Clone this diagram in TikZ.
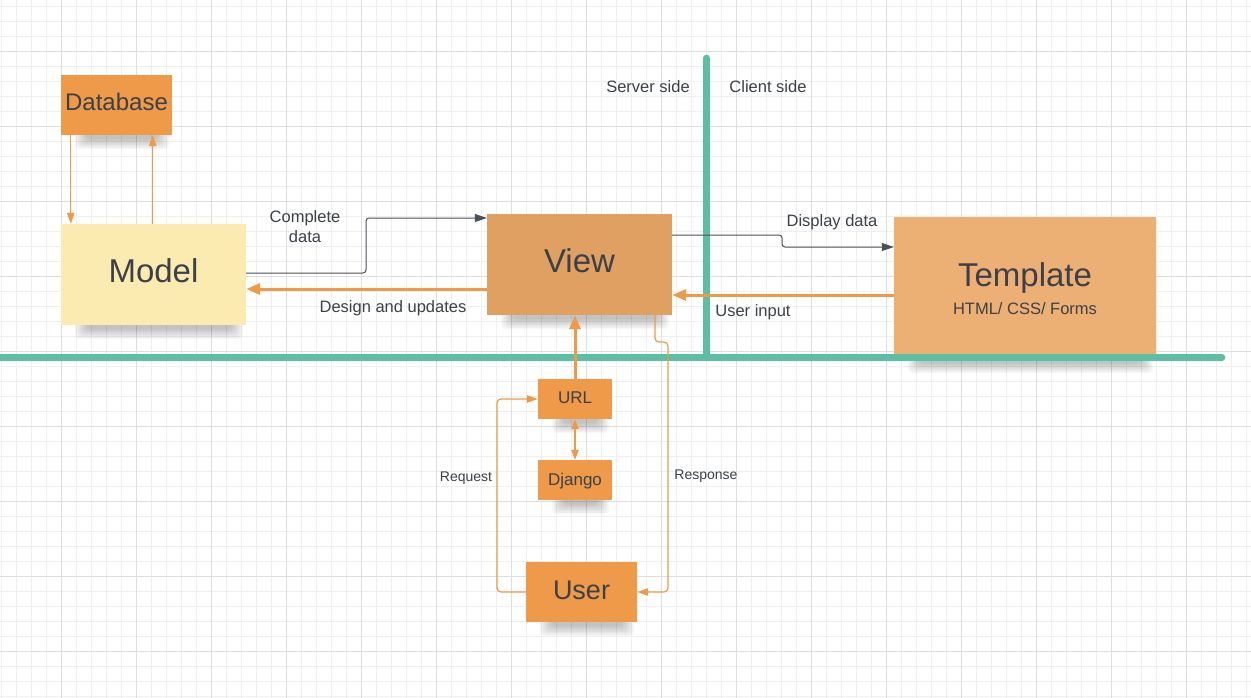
\documentclass[tikz,border=0pt]{standalone}
\usepackage{fontspec}
\setmainfont{Liberation Sans}
\usetikzlibrary{arrows.meta,calc,backgrounds}
\definecolor{txt}{HTML}{3B4049}
\definecolor{orng}{HTML}{EE9A49}
\definecolor{modelc}{HTML}{FBEBB1}
\definecolor{viewc}{HTML}{E0A062}
\definecolor{tplc}{HTML}{EDB074}
\definecolor{teal}{HTML}{5BBEA5}
\definecolor{conn}{HTML}{4A5058}
\definecolor{gridminor}{HTML}{EFEFEF}
\definecolor{gridmajor}{HTML}{DEDEDE}
\tikzset{
  box/.style={rectangle, inner sep=0pt, text=txt},
  basel/.style={text height=#1, text depth=0pt},
  thinor/.style={draw=orng, line width=1.2pt, -{Triangle[length=11pt,width=7.5pt]}},
  thickor/.style={draw=orng, line width=3pt, -{Triangle[length=14pt,width=11pt]}},
  grayc/.style={draw=conn, line width=1pt, rounded corners=3pt, -{Triangle[length=12pt,width=8pt]}},
  lbl/.style={text=txt, inner sep=0pt, font=\fontsize{16.5}{20}\selectfont},
  slbl/.style={text=txt, inner sep=0pt, font=\fontsize{14}{17}\selectfont},
  shadowpiece/.style={fill=black, opacity=0.032, rounded corners=5pt},
}
\newcommand{\boxshadow}[1]{%
  \foreach \i in {0,...,7}{%
    \fill[shadowpiece] ($(#1.south west)+(14+1.6*\i,-5)$) rectangle ($(#1.south east)+(-3-1.6*\i,14-1.4*\i)$);
  }%
}
\begin{document}
\begin{tikzpicture}[x=1pt,y=-1pt]
\useasboundingbox (0,0) rectangle (1251,698);
\begin{scope}[on background layer]
\fill[white] (0,0) rectangle (1251,698);
\foreach \gx in {1,16,...,1251} \draw[gridminor, line width=0.8pt] (\gx,0) -- (\gx,698);
\foreach \gy in {6,21,...,698} \draw[gridminor, line width=0.8pt] (0,\gy) -- (1251,\gy);
\foreach \gx in {61,136,...,1251} \draw[gridmajor, line width=0.9pt] (\gx,0) -- (\gx,698);
\foreach \gy in {51,126,...,698} \draw[gridmajor, line width=0.9pt] (0,\gy) -- (1251,\gy);
\end{scope}

% boxes
\node[box, basel=12pt, fill=orng, minimum width=111pt, minimum height=60pt, font=\fontsize{24}{28}\selectfont] (db) at (116.5,105) {Database};
\node[box, basel=15pt, fill=modelc, minimum width=185pt, minimum height=101pt, font=\fontsize{33}{40}\selectfont] (model) at (153.5,274.5) {Model};
\node[box, basel=15pt, fill=viewc, minimum width=185pt, minimum height=101pt, font=\fontsize{33}{40}\selectfont] (view) at (579.5,264.5) {View};
\node[box, fill=tplc, minimum width=262pt, minimum height=142pt] (tpl) at (1025,288) {};
\node[text=txt, inner sep=0pt, font=\fontsize{33}{40}\selectfont] (tplname) at (1025,278) {Template};
\node[text=txt, inner sep=0pt, font=\fontsize{16.5}{20}\selectfont] (tplsub) at (1025,308.5) {HTML/ CSS/ Forms};
\node[box, basel=8.6pt, fill=orng, minimum width=74pt, minimum height=40pt, font=\fontsize{17}{20}\selectfont] (url) at (575,399) {URL};
\node[box, basel=10pt, fill=orng, minimum width=74pt, minimum height=40pt, font=\fontsize{17}{20}\selectfont] (django) at (575,480) {Django};
\node[box, basel=14pt, fill=orng, minimum width=111pt, minimum height=60pt, font=\fontsize{27}{32}\selectfont] (user) at (581.5,592) {User};

\begin{scope}[on background layer]
\boxshadow{db}
\boxshadow{model}
\boxshadow{view}
\boxshadow{tpl}
\boxshadow{url}
\boxshadow{django}
\boxshadow{user}
\end{scope}

% teal dividers
\coordinate (hl) at (0,357.5);
\coordinate (hr) at (1222,357.5);
\coordinate (vt) at (706.5,58);
\coordinate (vb) at (706.5,357.5);
\draw[teal, line width=6.5pt, line cap=round] (hl) -- (hr);
\draw[teal, line width=6.5pt, line cap=round] (vt) -- (vb);

% labels
\node[lbl] (srv) at (648,87) {Server side};
\node[lbl] (cli) at (768,87) {Client side};
\node[lbl, align=center] (cdata) at (305,227) {Complete\\data};
\node[lbl] (design) at (393,308.5) {Design and updates};
\node[lbl] (disp) at (832,222) {Display data};
\node[lbl] (uinput) at (753,312.5) {User input};
\node[slbl] (req) at (466,478.5) {Request};
\node[slbl] (resp) at (706,476.5) {Response};

% connectors
\draw[thinor] (db.south west |- 0,135) ++(10,0) coordinate (d1) -- (d1 |- model.north);
\draw[thinor] (model.north west) ++(92,0) coordinate (m1) -- (m1 |- db.south);
\draw[grayc] (model.east |- 0,273) -- (366,273) -- (366,218) -- (view.west |- 0,218);
\draw[thickor] (view.west |- 0,289) -- (model.east |- 0,289);
\draw[grayc] (view.east |- 0,235) -- (782,235) -- (782,247) -- (tpl.west |- 0,247);
\draw[thickor] (tpl.west |- 0,295) -- (view.east |- 0,295);
\draw[thickor] (url.north) -- (url.north |- view.south);
\draw[draw=orng, line width=1.2pt, {Triangle[length=10pt,width=7.5pt]}-{Triangle[length=10pt,width=7.5pt]}] (url.south) -- (django.north);
\draw[thinor, rounded corners=4pt] (user.west) -- (497,592) -- (497,399) -- (url.west);
\draw[thinor, rounded corners=4pt] (655,315) -- (655,342) -- (668,342) -- (668,592) -- (user.east);
\end{tikzpicture}
\end{document}
